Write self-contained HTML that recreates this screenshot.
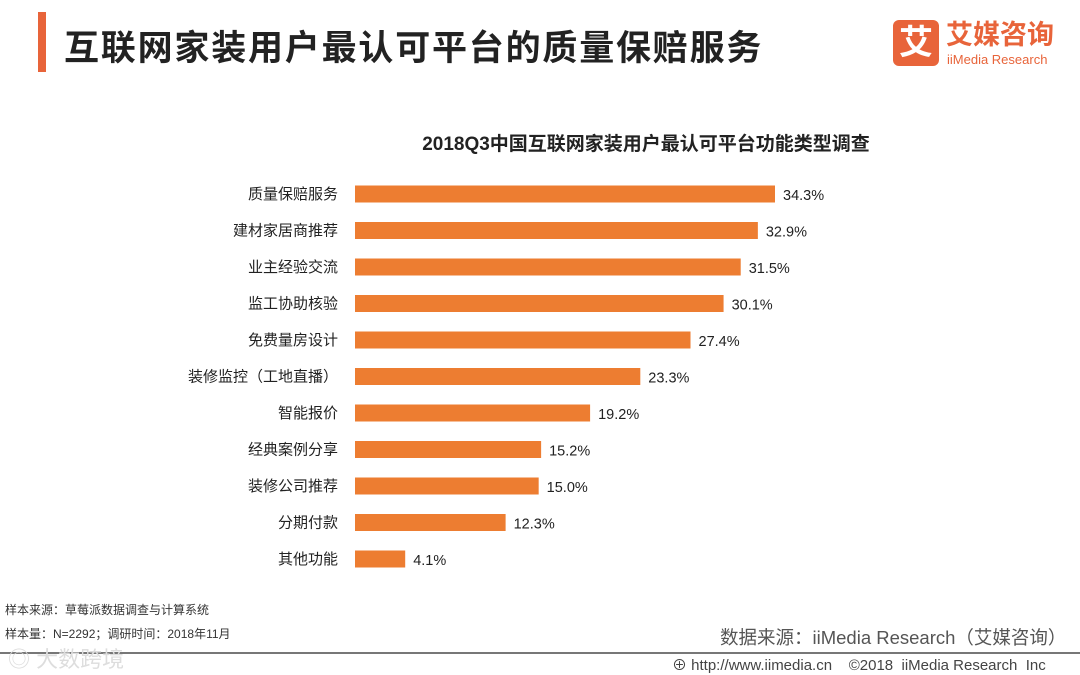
<!DOCTYPE html>
<html><head><meta charset="utf-8">
<style>
body{margin:0;width:1080px;height:675px;background:#fff;overflow:hidden;position:relative;font-family:"Liberation Sans","Noto Sans CJK SC",sans-serif;}
.abs{position:absolute;}
</style></head>
<body>
<div class="abs" style="left:38px;top:12px;width:8px;height:60px;background:#e8643a"></div>
<div class="abs" style="left:64px;top:20px;font-size:35px;font-weight:bold;color:#222;letter-spacing:1.8px;white-space:nowrap">互联网家装用户最认可平台的质量保赔服务</div>
<div class="abs" style="left:893px;top:20px;width:46px;height:46px;background:#e8643a;border-radius:6px;color:#fff;font-size:34px;font-weight:bold;text-align:center;line-height:46px">艾</div>
<div class="abs" style="left:946px;top:20px;font-size:27px;color:#e8643a;font-weight:bold;line-height:30px">艾媒咨询</div>
<div class="abs" style="left:947px;top:52px;font-size:13px;color:#e8643a">iiMedia Research</div>
<svg class="abs" style="left:0;top:0" width="1080" height="675">
<text x="646" y="150" text-anchor="middle" font-size="19" font-weight="bold" fill="#222">2018Q3中国互联网家装用户最认可平台功能类型调查</text>
<g id="bars"></g>
</svg>
<div class="abs" style="left:5px;top:601px;font-size:12px;color:#333">样本来源：草莓派数据调查与计算系统</div>
<div class="abs" style="left:5px;top:625px;font-size:12px;color:#333">样本量：N=2292；调研时间：2018年11月</div>
<div class="abs" style="left:720px;top:624px;font-size:18.5px;color:#555;white-space:nowrap">数据来源：iiMedia Research（艾媒咨询）</div>
<div class="abs" style="left:0;top:652px;width:1080px;height:2px;background:#777"></div>
<div class="abs" style="left:8px;top:642px;font-size:22px;color:#ddd">◎ 大数跨境</div>
<div class="abs" style="left:672px;top:654px;font-size:15px;color:#444;white-space:nowrap">⊕ http://www.iimedia.cn &nbsp;&nbsp; ©2018 &nbsp;iiMedia Research &nbsp;Inc</div>
<script>
const categories=["质量保赔服务","建材家居商推荐","业主经验交流","监工协助核验","免费量房设计","装修监控（工地直播）","智能报价","经典案例分享","装修公司推荐","分期付款","其他功能"];
const values=[34.3,32.9,31.5,30.1,27.4,23.3,19.2,15.2,15.0,12.3,4.1];
const valueLabels=["34.3%","32.9%","31.5%","30.1%","27.4%","23.3%","19.2%","15.2%","15.0%","12.3%","4.1%"];
const x0=355, pxPer=420/34.3, yTop=194, step=36.5, bh=17;
const xs=v=>x0+v*pxPer;
const ys=i=>yTop+i*step;
const g=document.getElementById('bars');
const NS="http://www.w3.org/2000/svg";
categories.forEach((c,i)=>{
  const y=ys(i);
  const r=document.createElementNS(NS,'rect');
  r.setAttribute('x',x0);r.setAttribute('y',y-bh/2);
  r.setAttribute('width',xs(values[i])-x0);r.setAttribute('height',bh);
  r.setAttribute('fill','#ed7d31');
  
  
  g.appendChild(r);
  const t=document.createElementNS(NS,'text');
  t.setAttribute('x',338);t.setAttribute('y',y+5);t.setAttribute('text-anchor','end');
  t.setAttribute('font-size','15');t.setAttribute('fill','#222');t.textContent=c;
  
  
  g.appendChild(t);
  const v=document.createElementNS(NS,'text');
  v.setAttribute('x',xs(values[i])+8);v.setAttribute('y',y+6);
  v.setAttribute('font-size','14.5');v.setAttribute('fill','#222');v.textContent=valueLabels[i];
  
  
  g.appendChild(v);
});
</script>
</body></html>
